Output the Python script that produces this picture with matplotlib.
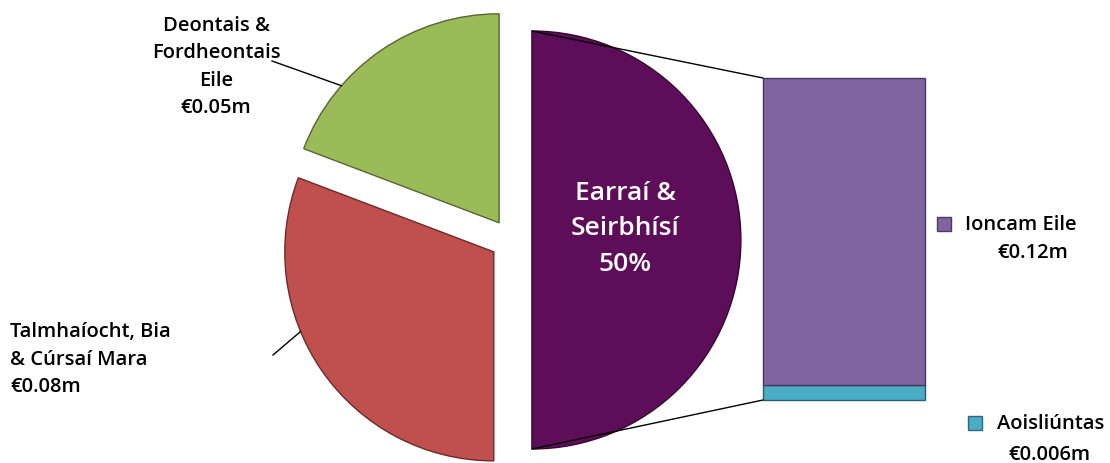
import numpy as np
import matplotlib
matplotlib.use("Agg")
import matplotlib.pyplot as plt
from matplotlib.patches import ConnectionPatch

plt.rcParams['font.family'] = ['Open Sans', 'DejaVu Sans']
plt.rcParams['font.weight'] = 'semibold'

# pie part: combined slice, grants, agriculture
pie_labels = ['Earraí &\nSeirbhísí', 'Deontais &\nFordheontais\nEile', 'Talmhaíocht, Bia\n& Cúrsaí Mara']
pie_values = [0.13, 0.05, 0.08]
pie_colors = ['#5e0e59', '#9bbb59', '#c0504d']

# bar part: breakdown of the combined slice
bar_labels = ['Aoisliúntas', 'Ioncam Eile']
bar_values = [0.006, 0.12]
bar_colors = ['#4bacc6', '#8064a2']

W, H = 1110, 464
fig = plt.figure(figsize=(W / 100, H / 100), dpi=100)
ax = fig.add_axes([0, 0, 1, 1])


def darker(c, f=0.55):
    return tuple(v * f for v in matplotlib.colors.to_rgb(c))


cx, cy, r = 511, 223, 209
# matplotlib's explode is in data units, so scale by the radius
wedges, _ = ax.pie(pie_values, colors=pie_colors, startangle=-90, counterclock=True,
                   explode=[0.1 * r] * 3, center=(cx, cy), radius=r, frame=True)
for w, c in zip(wedges, pie_colors):
    w.set_edgecolor(darker(c))
    w.set_linewidth(1.0)

ax.set_xlim(0, W)
ax.set_ylim(0, H)
ax.set_aspect('equal')
ax.axis('off')


def arc_point(w, ang):
    c = np.array(w.center)
    return c + r * np.array([np.cos(np.radians(ang)), np.sin(np.radians(ang))])


total = sum(pie_values)
pct = round(100 * pie_values[0] / total)
ax.text(625, 235, f'{pie_labels[0]}\n{pct}%', color='white', fontsize=19,
        ha='center', va='center', linespacing=1.55)

# grants label
ax.text(216, 397, f'{pie_labels[1]}\n€{pie_values[1]:.2f}m', fontsize=14.5,
        ha='center', va='center', linespacing=1.5)
p = arc_point(wedges[1], 139)
ax.plot([272, p[0]], [402, p[1]], color='black', lw=1)

# agriculture label
ax.text(10, 104, f'{pie_labels[2]}\n€{pie_values[2]:.2f}m', fontsize=14.5,
        ha='left', va='center', linespacing=1.5)
p = arc_point(wedges[2], 202.4)
ax.plot([273, p[0]], [108, p[1]], color='black', lw=1)

# stacked bar
bx = fig.add_axes([763 / W, 63 / H, 162 / W, 322 / H])
bottom = 0
for v, c in zip(bar_values, bar_colors):
    bx.bar(0, v, bottom=bottom, width=1, color=c, edgecolor=darker(c), linewidth=1.0,
           clip_on=False)
    bottom += v
bx.set_xlim(-0.5, 0.5)
bx.set_ylim(0, sum(bar_values))
bx.axis('off')

# connector lines
top = arc_point(wedges[0], 90)
bot = arc_point(wedges[0], -90)
for pt, yb in [(top, sum(bar_values)), (bot, 0)]:
    con = ConnectionPatch(xyA=pt, coordsA=ax.transData, xyB=(-0.5, yb), coordsB=bx.transData,
                          color='black', lw=1)
    fig.add_artist(con)

# bar labels with keys
ax.plot(944, 239, marker='s', ms=10, color=bar_colors[1], mec=darker(bar_colors[1], 0.6))
ax.text(965, 239, bar_labels[1], fontsize=14.5, ha='left', va='center')
ax.text(997, 211, f'€{bar_values[1]:.2f}m', fontsize=14.5, ha='left', va='center')

ax.plot(975, 40, marker='s', ms=10, color=bar_colors[0], mec=darker(bar_colors[0], 0.6))
ax.text(997, 40, bar_labels[0], fontsize=14.5, ha='left', va='center')
ax.text(1008, 9, f'€{bar_values[0]:.3f}m', fontsize=14.5, ha='left', va='center')

fig.savefig('out.png', dpi=100)
